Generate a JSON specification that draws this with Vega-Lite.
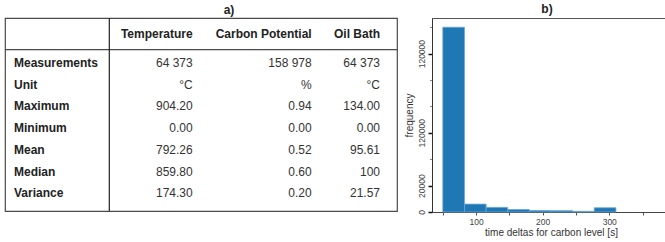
{
  "$schema": "https://vega.github.io/schema/vega-lite/v6.json",
  "padding": {"left": 3, "top": 2, "right": 0, "bottom": 0},
  "spacing": 4,
  "config": {
    "font": "Liberation Sans",
    "view": {"stroke": "#555", "strokeWidth": 1},
    "title": {"fontSize": 12, "fontWeight": "bold", "color": "#222", "font": "Liberation Sans"}
  },
  "hconcat": [
    {
      "width": 392,
      "height": 193,
      "title": {"text": "a)", "dx": 28, "offset": 0},
      "view": {"stroke": "#4a4a4a", "strokeWidth": 1.2},
      "data": {
        "values": [
          {"row": 0, "col": 1, "text": "Temperature"},
          {"row": 0, "col": 2, "text": "Carbon Potential"},
          {"row": 0, "col": 3, "text": "Oil Bath"},
          {"row": 1, "col": 0, "text": "Measurements"},
          {"row": 1, "col": 1, "text": "64 373"},
          {"row": 1, "col": 2, "text": "158 978"},
          {"row": 1, "col": 3, "text": "64 373"},
          {"row": 2, "col": 0, "text": "Unit"},
          {"row": 2, "col": 1, "text": "°C"},
          {"row": 2, "col": 2, "text": "%"},
          {"row": 2, "col": 3, "text": "°C"},
          {"row": 3, "col": 0, "text": "Maximum"},
          {"row": 3, "col": 1, "text": "904.20"},
          {"row": 3, "col": 2, "text": "0.94"},
          {"row": 3, "col": 3, "text": "134.00"},
          {"row": 4, "col": 0, "text": "Minimum"},
          {"row": 4, "col": 1, "text": "0.00"},
          {"row": 4, "col": 2, "text": "0.00"},
          {"row": 4, "col": 3, "text": "0.00"},
          {"row": 5, "col": 0, "text": "Mean"},
          {"row": 5, "col": 1, "text": "792.26"},
          {"row": 5, "col": 2, "text": "0.52"},
          {"row": 5, "col": 3, "text": "95.61"},
          {"row": 6, "col": 0, "text": "Median"},
          {"row": 6, "col": 1, "text": "859.80"},
          {"row": 6, "col": 2, "text": "0.60"},
          {"row": 6, "col": 3, "text": "100"},
          {"row": 7, "col": 0, "text": "Variance"},
          {"row": 7, "col": 1, "text": "174.30"},
          {"row": 7, "col": 2, "text": "0.20"},
          {"row": 7, "col": 3, "text": "21.57"}
        ]
      },
      "layer": [
        {
          "data": {"values": [{"line": "header"}]},
          "mark": {"type": "rule", "color": "#4a4a4a", "strokeWidth": 1.2},
          "encoding": {
            "y": {"datum": 0.5, "type": "quantitative", "scale": {"domain": [-1, 0, 0.5, 1, 7, 8], "range": [0, 16, 31.7, 45, 175.3, 193], "nice": false, "zero": false}, "axis": null}
          }
        },
        {
          "data": {"values": [{"line": "separator"}]},
          "mark": {"type": "rule", "color": "#222", "strokeWidth": 1.2},
          "encoding": {
            "x": {"datum": 0.5, "type": "quantitative", "scale": {"domain": [0, 0.5, 1, 2, 3], "range": [9, 104.3, 187.7, 306.7, 375], "nice": false, "zero": false}, "axis": null}
          }
        },
        {
          "transform": [{"filter": "datum.col == 0"}],
          "mark": {"type": "text", "align": "left", "baseline": "middle", "fontSize": 12, "fontWeight": "bold", "color": "#222"},
          "encoding": {
            "x": {"field": "col", "type": "quantitative", "axis": null},
            "y": {"field": "row", "type": "quantitative", "axis": null},
            "text": {"field": "text"}
          }
        },
        {
          "transform": [{"filter": "datum.row == 0"}],
          "mark": {"type": "text", "align": "right", "baseline": "middle", "fontSize": 12, "fontWeight": "bold", "color": "#222"},
          "encoding": {
            "x": {"field": "col", "type": "quantitative", "axis": null},
            "y": {"field": "row", "type": "quantitative", "axis": null},
            "text": {"field": "text"}
          }
        },
        {
          "transform": [{"filter": "datum.row > 0 && datum.col > 0"}],
          "mark": {"type": "text", "align": "right", "baseline": "middle", "fontSize": 12, "color": "#333"},
          "encoding": {
            "x": {"field": "col", "type": "quantitative", "axis": null},
            "y": {"field": "row", "type": "quantitative", "axis": null},
            "text": {"field": "text"}
          }
        }
      ]
    },
    {
      "width": 238,
      "height": 194,
      "title": {"text": "b)", "dx": -4, "offset": 2},
      "data": {
        "values": [
          {"start": 50, "end": 82.5, "count": 140000},
          {"start": 82.5, "end": 115, "count": 6000},
          {"start": 115, "end": 147.5, "count": 3500},
          {"start": 147.5, "end": 180, "count": 1900},
          {"start": 180, "end": 212.5, "count": 1100},
          {"start": 212.5, "end": 245, "count": 1000},
          {"start": 245, "end": 277.5, "count": 500},
          {"start": 277.5, "end": 310, "count": 3200}
        ]
      },
      "mark": {"type": "rect", "color": "#1f77b4", "stroke": "#6aa6d6", "strokeWidth": 0.8},
      "encoding": {
        "x": {
          "field": "start",
          "type": "quantitative",
          "title": "time deltas for carbon level [s]",
          "scale": {"domain": [33.75, 391.25], "nice": false, "zero": false},
          "axis": {
            "values": [50, 100, 150, 200, 250, 300, 350],
            "format": "d",
            "labelExpr": "datum.value % 100 == 0 ? datum.label : ''",
            "grid": false,
            "tickSize": 3,
            "tickColor": "#555",
            "domainColor": "#444",
            "labelFontSize": 8.5,
            "labelColor": "#444",
            "labelPadding": 2,
            "labelFlush": false,
            "titleFontSize": 10,
            "titleFontWeight": "normal",
            "titleColor": "#333",
            "titlePadding": 2
          }
        },
        "x2": {"field": "end"},
        "y": {
          "field": "count",
          "type": "quantitative",
          "title": "frequency",
          "scale": {"domain": [0, 147000], "nice": false},
          "axis": {
            "values": [0, 20000, 40000, 60000, 80000, 100000, 120000, 140000],
            "format": "d",
            "labelExpr": "datum.value == 0 ? '0' : datum.value == 20000 ? '20000' : datum.value == 60000 ? '120000' : datum.value == 120000 ? '120000' : ''",
            "grid": false,
            "labelAngle": -90,
            "labelAlign": "center",
            "labelBaseline": "bottom",
            "labelFlush": false,
            "labelOverlap": false,
            "tickSize": {"condition": {"test": "datum.value == 0 || datum.value == 20000 || datum.value == 60000 || datum.value == 120000", "value": 4}, "value": 2.5},
            "tickWidth": {"condition": {"test": "datum.value == 0 || datum.value == 20000 || datum.value == 60000 || datum.value == 120000", "value": 1.5}, "value": 1},
            "tickColor": {"condition": {"test": "datum.value == 0 || datum.value == 20000 || datum.value == 60000 || datum.value == 120000", "value": "#111"}, "value": "#888"},
            "domainColor": "#333",
            "labelFontSize": 8.5,
            "labelColor": "#444",
            "labelPadding": 2,
            "titleFontSize": 10,
            "titleFontWeight": "normal",
            "titleColor": "#333",
            "titlePadding": 3
          }
        },
        "y2": {"datum": 0}
      }
    }
  ]
}
